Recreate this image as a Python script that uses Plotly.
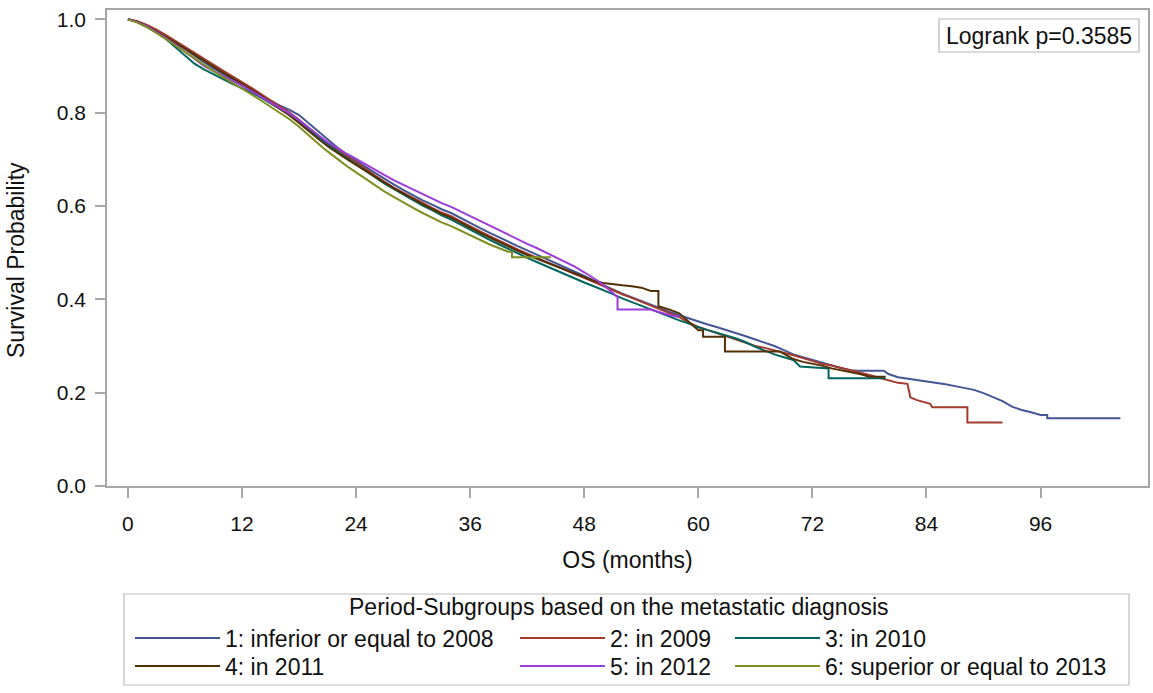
import plotly.graph_objects as go

# ---------------- data ----------------
group_names = [
    "1: inferior or equal to 2008",
    "2: in 2009",
    "3: in 2010",
    "4: in 2011",
    "5: in 2012",
    "6: superior or equal to 2013",
]
group_colors = ["#445694", "#A23A2E", "#01665E", "#543005", "#9D3CDB", "#7F8E1F"]

g1_t = [0, 1, 2, 3, 4, 5, 6, 7, 8, 9, 10, 11, 12, 13, 14, 15, 16, 17, 18, 19, 20,
        21, 22, 23, 24, 25, 26, 27, 28, 29, 30, 31, 32, 33, 34, 35, 36, 37, 38, 39, 40,
        41, 42, 43, 44, 45, 46, 47, 48, 49, 50, 51, 52, 53, 54, 55, 56, 57, 58, 59, 60,
        61, 62, 63, 64, 65, 66, 67, 68, 69, 70, 71, 72, 73, 74, 75, 76, 76.7, 79.5, 80,
        81, 82, 83, 84, 85, 86, 87, 88, 89, 90, 91, 92, 93, 94, 95, 96, 96.7, 96.7, 104.4]
g1_s = [1.000, 0.995, 0.986, 0.975, 0.963, 0.950, 0.937, 0.922, 0.908, 0.895, 0.883,
        0.872, 0.861, 0.849, 0.837, 0.825, 0.815, 0.806, 0.795, 0.778, 0.760,
        0.742, 0.726, 0.711, 0.697, 0.684, 0.671, 0.658, 0.646, 0.634, 0.623,
        0.612, 0.603, 0.593, 0.585, 0.574, 0.563, 0.553, 0.543, 0.533, 0.523,
        0.514, 0.505, 0.496, 0.487, 0.478, 0.469, 0.460, 0.450, 0.440, 0.430,
        0.421, 0.412, 0.404, 0.396, 0.389, 0.381, 0.373, 0.366, 0.359, 0.352,
        0.346, 0.340, 0.334, 0.328, 0.321, 0.314, 0.307, 0.300, 0.291, 0.282,
        0.276, 0.270, 0.264, 0.258, 0.253, 0.248, 0.247, 0.247, 0.240,
        0.233, 0.230, 0.227, 0.225, 0.222, 0.218, 0.214, 0.210, 0.206, 0.199,
        0.190, 0.182, 0.170, 0.163, 0.158, 0.152, 0.152, 0.145, 0.145]

g2_t = [0, 1, 2, 3, 4, 5, 6, 7, 8, 9, 10, 11, 12, 13, 14, 15, 16, 17, 18, 19, 20,
        21, 22, 23, 24, 25, 26, 27, 28, 29, 30, 31, 32, 33, 34, 35, 36, 37, 38, 39, 40,
        41, 42, 43, 44, 45, 46, 47, 48, 49, 50, 51, 52, 53, 54, 55, 56, 57, 58, 59, 60,
        61, 62, 63, 64, 65, 66, 67, 68, 69, 70, 71, 72, 73, 74, 75, 76, 77, 78, 79, 80,
        81, 82, 82.3, 83, 84.4, 84.6, 88.3, 88.3, 92]
g2_s = [1.000, 0.996, 0.988, 0.978, 0.966, 0.954, 0.941, 0.928, 0.915, 0.902, 0.890,
        0.878, 0.866, 0.853, 0.840, 0.827, 0.813, 0.800, 0.785, 0.767, 0.751,
        0.735, 0.720, 0.707, 0.694, 0.679, 0.665, 0.652, 0.639, 0.628, 0.617,
        0.606, 0.596, 0.586, 0.578, 0.567, 0.556, 0.546, 0.536, 0.526, 0.516,
        0.507, 0.498, 0.489, 0.480, 0.471, 0.462, 0.454, 0.446, 0.437, 0.428,
        0.419, 0.411, 0.403, 0.395, 0.387, 0.379, 0.371, 0.362, 0.350, 0.341,
        0.334, 0.327, 0.320, 0.313, 0.306, 0.300, 0.296, 0.291, 0.286, 0.280,
        0.274, 0.268, 0.262, 0.258, 0.253, 0.249, 0.244, 0.238, 0.232, 0.226,
        0.221, 0.219, 0.190, 0.184, 0.176, 0.169, 0.169, 0.136, 0.136]

g3_t = [0, 1, 2, 3, 4, 5, 6, 7, 8, 9, 10, 11, 12, 13, 14, 15, 16, 17, 18, 19, 20,
        21, 22, 23, 24, 25, 26, 27, 28, 29, 30, 31, 32, 33, 34, 35, 36, 37, 38, 39, 40,
        41, 42, 43, 44, 45, 46, 47, 48, 49, 50, 51, 52, 53, 54, 55, 56, 57, 58, 59, 60,
        61, 62, 63, 64, 65, 66, 67, 68, 69, 70, 70.7, 73.7, 73.7, 79.7]
g3_s = [1.000, 0.994, 0.984, 0.972, 0.958, 0.940, 0.922, 0.905, 0.893, 0.882, 0.872,
        0.862, 0.853, 0.843, 0.832, 0.820, 0.808, 0.796, 0.781, 0.764, 0.748,
        0.732, 0.717, 0.703, 0.689, 0.675, 0.661, 0.648, 0.636, 0.624, 0.612,
        0.601, 0.591, 0.580, 0.571, 0.560, 0.549, 0.538, 0.528, 0.518, 0.508,
        0.498, 0.489, 0.480, 0.471, 0.462, 0.453, 0.444, 0.436, 0.428, 0.420,
        0.411, 0.402, 0.394, 0.386, 0.378, 0.370, 0.362, 0.355, 0.348, 0.340,
        0.334, 0.328, 0.322, 0.316, 0.308, 0.298, 0.290, 0.282, 0.276, 0.270,
        0.256, 0.252, 0.231, 0.231]

g4_t = [0, 1, 2, 3, 4, 5, 6, 7, 8, 9, 10, 11, 12, 13, 14, 15, 16, 17, 18, 19, 20,
        21, 22, 23, 24, 25, 26, 27, 28, 29, 30, 31, 32, 33, 34, 35, 36, 37, 38, 39, 40,
        41, 42, 43, 44, 45, 46, 47, 48, 49, 50, 51, 52, 53, 54, 55, 55.8, 55.8, 57, 58,
        59, 60, 60.5, 60.5, 62.8, 62.8, 68.6, 69.5, 70, 71, 72, 73, 74, 75, 76, 77, 78,
        79.7]
g4_s = [1.000, 0.995, 0.985, 0.974, 0.962, 0.950, 0.937, 0.924, 0.911, 0.898, 0.886,
        0.874, 0.862, 0.849, 0.836, 0.822, 0.808, 0.794, 0.778, 0.760, 0.744,
        0.728, 0.714, 0.701, 0.688, 0.675, 0.662, 0.650, 0.638, 0.626, 0.615,
        0.604, 0.594, 0.583, 0.575, 0.564, 0.553, 0.543, 0.533, 0.523, 0.513,
        0.504, 0.495, 0.487, 0.479, 0.471, 0.463, 0.455, 0.447, 0.440, 0.435,
        0.432, 0.430, 0.428, 0.425, 0.418, 0.418, 0.385, 0.378, 0.370,
        0.352, 0.334, 0.334, 0.320, 0.320, 0.288, 0.288, 0.278, 0.272, 0.266,
        0.262, 0.258, 0.252, 0.248, 0.244, 0.240, 0.234, 0.234]

g5_t = [0, 1, 2, 3, 4, 5, 6, 7, 8, 9, 10, 11, 12, 13, 14, 15, 16, 17, 18, 19, 20,
        21, 22, 23, 24, 25, 26, 27, 28, 29, 30, 31, 32, 33, 34, 35, 36, 37, 38, 39, 40,
        41, 42, 43, 44, 45, 46, 47, 48, 49, 49.7, 51.5, 51.5, 55, 56, 57, 58]
g5_s = [1.000, 0.994, 0.985, 0.973, 0.960, 0.946, 0.931, 0.916, 0.900, 0.889, 0.879,
        0.869, 0.858, 0.846, 0.834, 0.822, 0.810, 0.798, 0.784, 0.767, 0.752,
        0.737, 0.724, 0.712, 0.701, 0.689, 0.677, 0.666, 0.655, 0.645, 0.635,
        0.625, 0.616, 0.606, 0.598, 0.588, 0.578, 0.568, 0.558, 0.548, 0.538,
        0.528, 0.519, 0.510, 0.500, 0.491, 0.481, 0.470, 0.458, 0.446, 0.436,
        0.405, 0.378, 0.378, 0.372, 0.366, 0.362]

g6_t = [0, 1, 2, 3, 4, 5, 6, 7, 8, 9, 10, 11, 12, 13, 14, 15, 16, 17, 18, 19, 20,
        21, 22, 23, 24, 25, 26, 27, 28, 29, 30, 31, 32, 33, 34, 35, 36, 37, 38, 39, 40,
        40.4, 40.4, 44.5]
g6_s = [1.000, 0.993, 0.983, 0.971, 0.958, 0.944, 0.930, 0.916, 0.902, 0.889, 0.876,
        0.864, 0.852, 0.839, 0.826, 0.813, 0.800, 0.786, 0.770, 0.751, 0.734,
        0.717, 0.701, 0.686, 0.672, 0.658, 0.644, 0.631, 0.619, 0.607, 0.596,
        0.585, 0.575, 0.565, 0.557, 0.547, 0.537, 0.527, 0.518, 0.510, 0.502,
        0.502, 0.490, 0.490]

x_ticks = [0, 12, 24, 36, 48, 60, 72, 84, 96]
y_ticks = [0.0, 0.2, 0.4, 0.6, 0.8, 1.0]
y_ticklabels = ["0.0", "0.2", "0.4", "0.6", "0.8", "1.0"]
x_title = "OS (months)"
y_title = "Survival Probability"
logrank_text = "Logrank p=0.3585"
legend_title = "Period-Subgroups based on the metastatic diagnosis"

# ---------------- figure ----------------
W, H = 1153, 693
ML, MR, MT, MB = 107, 5, 10, 207
PW, PH = W - ML - MR, H - MT - MB
FONT = "Arial, Liberation Sans, sans-serif"
GRID = "#a6a6a6"
TXT = "#111111"


def px2paper_x(px):
    return (px - ML) / PW


def px2paper_y(py):
    return (H - MB - py) / PH


series_t = [g1_t, g2_t, g3_t, g4_t, g5_t, g6_t]
series_s = [g1_s, g2_s, g3_s, g4_s, g5_s, g6_s]

# legend placement: column x of legend box, row y centre (pixels)
col_x = [130, 515, 730]
row_y = [638, 666]
legend_ids = ["legend", "legend2", "legend3", "legend4", "legend5", "legend6"]

fig = go.Figure()
for i in range(6):
    fig.add_trace(go.Scatter(
        x=series_t[i], y=series_s[i], mode="lines",
        line=dict(color=group_colors[i], width=2, shape="linear"),
        name=group_names[i], legend=legend_ids[i],
        hoverinfo="x+y+name",
    ))

layout_legends = {}
for i in range(6):
    col = i % 3
    row = i // 3
    layout_legends[legend_ids[i]] = dict(
        xref="container", yref="container",
        x=(col_x[col]) / W, y=1 - row_y[row] / H,
        xanchor="left", yanchor="middle",
        orientation="v", bgcolor="rgba(0,0,0,0)", borderwidth=0,
        itemwidth=85, font=dict(family=FONT, size=23, color=TXT),
        itemclick=False, itemdoubleclick=False,
    )

fig.update_layout(
    width=W, height=H,
    margin=dict(l=ML, r=MR, t=MT, b=MB, pad=0, autoexpand=False),
    paper_bgcolor="white", plot_bgcolor="white",
    font=dict(family=FONT, size=21, color=TXT),
    showlegend=True,
    **layout_legends,
)

fig.update_xaxes(
    range=[-2.2, 107.3], tickvals=x_ticks, ticktext=[str(v) for v in x_ticks],
    showgrid=False, zeroline=False, showline=True, mirror=True,
    linecolor=GRID, linewidth=1.5,
    ticks="outside", ticklen=10, tickwidth=1.5, tickcolor=GRID,
    ticklabelstandoff=8,
    tickfont=dict(family=FONT, size=21, color=TXT),
    title=dict(text=x_title, font=dict(family=FONT, size=23, color=TXT), standoff=18),
)
fig.update_yaxes(
    range=[0, 1.02], tickvals=y_ticks, ticktext=y_ticklabels,
    showgrid=False, zeroline=False, showline=True, mirror=True,
    linecolor=GRID, linewidth=1.5,
    ticks="outside", ticklen=10, tickwidth=1.5, tickcolor=GRID,
    ticklabelstandoff=5,
    tickfont=dict(family=FONT, size=21, color=TXT),
)

# y-axis title (placed as rotated text left of the tick labels)
fig.add_annotation(xref="paper", yref="paper",
                   x=px2paper_x(16), y=px2paper_y(260),
                   xanchor="center", yanchor="middle", showarrow=False,
                   textangle=-90, text=y_title,
                   font=dict(family=FONT, size=23, color=TXT))

# Logrank box
fig.add_shape(type="rect", xref="paper", yref="paper",
              x0=px2paper_x(939), x1=px2paper_x(1139),
              y0=px2paper_y(52), y1=px2paper_y(19),
              line=dict(color="#b5b5b5", width=1.2), fillcolor="white", layer="above")
fig.add_annotation(xref="paper", yref="paper",
                   x=px2paper_x(1039), y=px2paper_y(35.5),
                   xanchor="center", yanchor="middle", showarrow=False,
                   text=logrank_text, font=dict(family=FONT, size=23, color=TXT))

# Legend frame and title
fig.add_shape(type="rect", xref="paper", yref="paper",
              x0=px2paper_x(124), x1=px2paper_x(1129),
              y0=px2paper_y(685), y1=px2paper_y(594),
              line=dict(color="#bdbdbd", width=1.2), fillcolor="rgba(0,0,0,0)")
fig.add_annotation(xref="paper", yref="paper",
                   x=px2paper_x(619), y=px2paper_y(607),
                   xanchor="center", yanchor="middle", showarrow=False,
                   text=legend_title, font=dict(family=FONT, size=23, color=TXT))

fig.write_html("out.html")
